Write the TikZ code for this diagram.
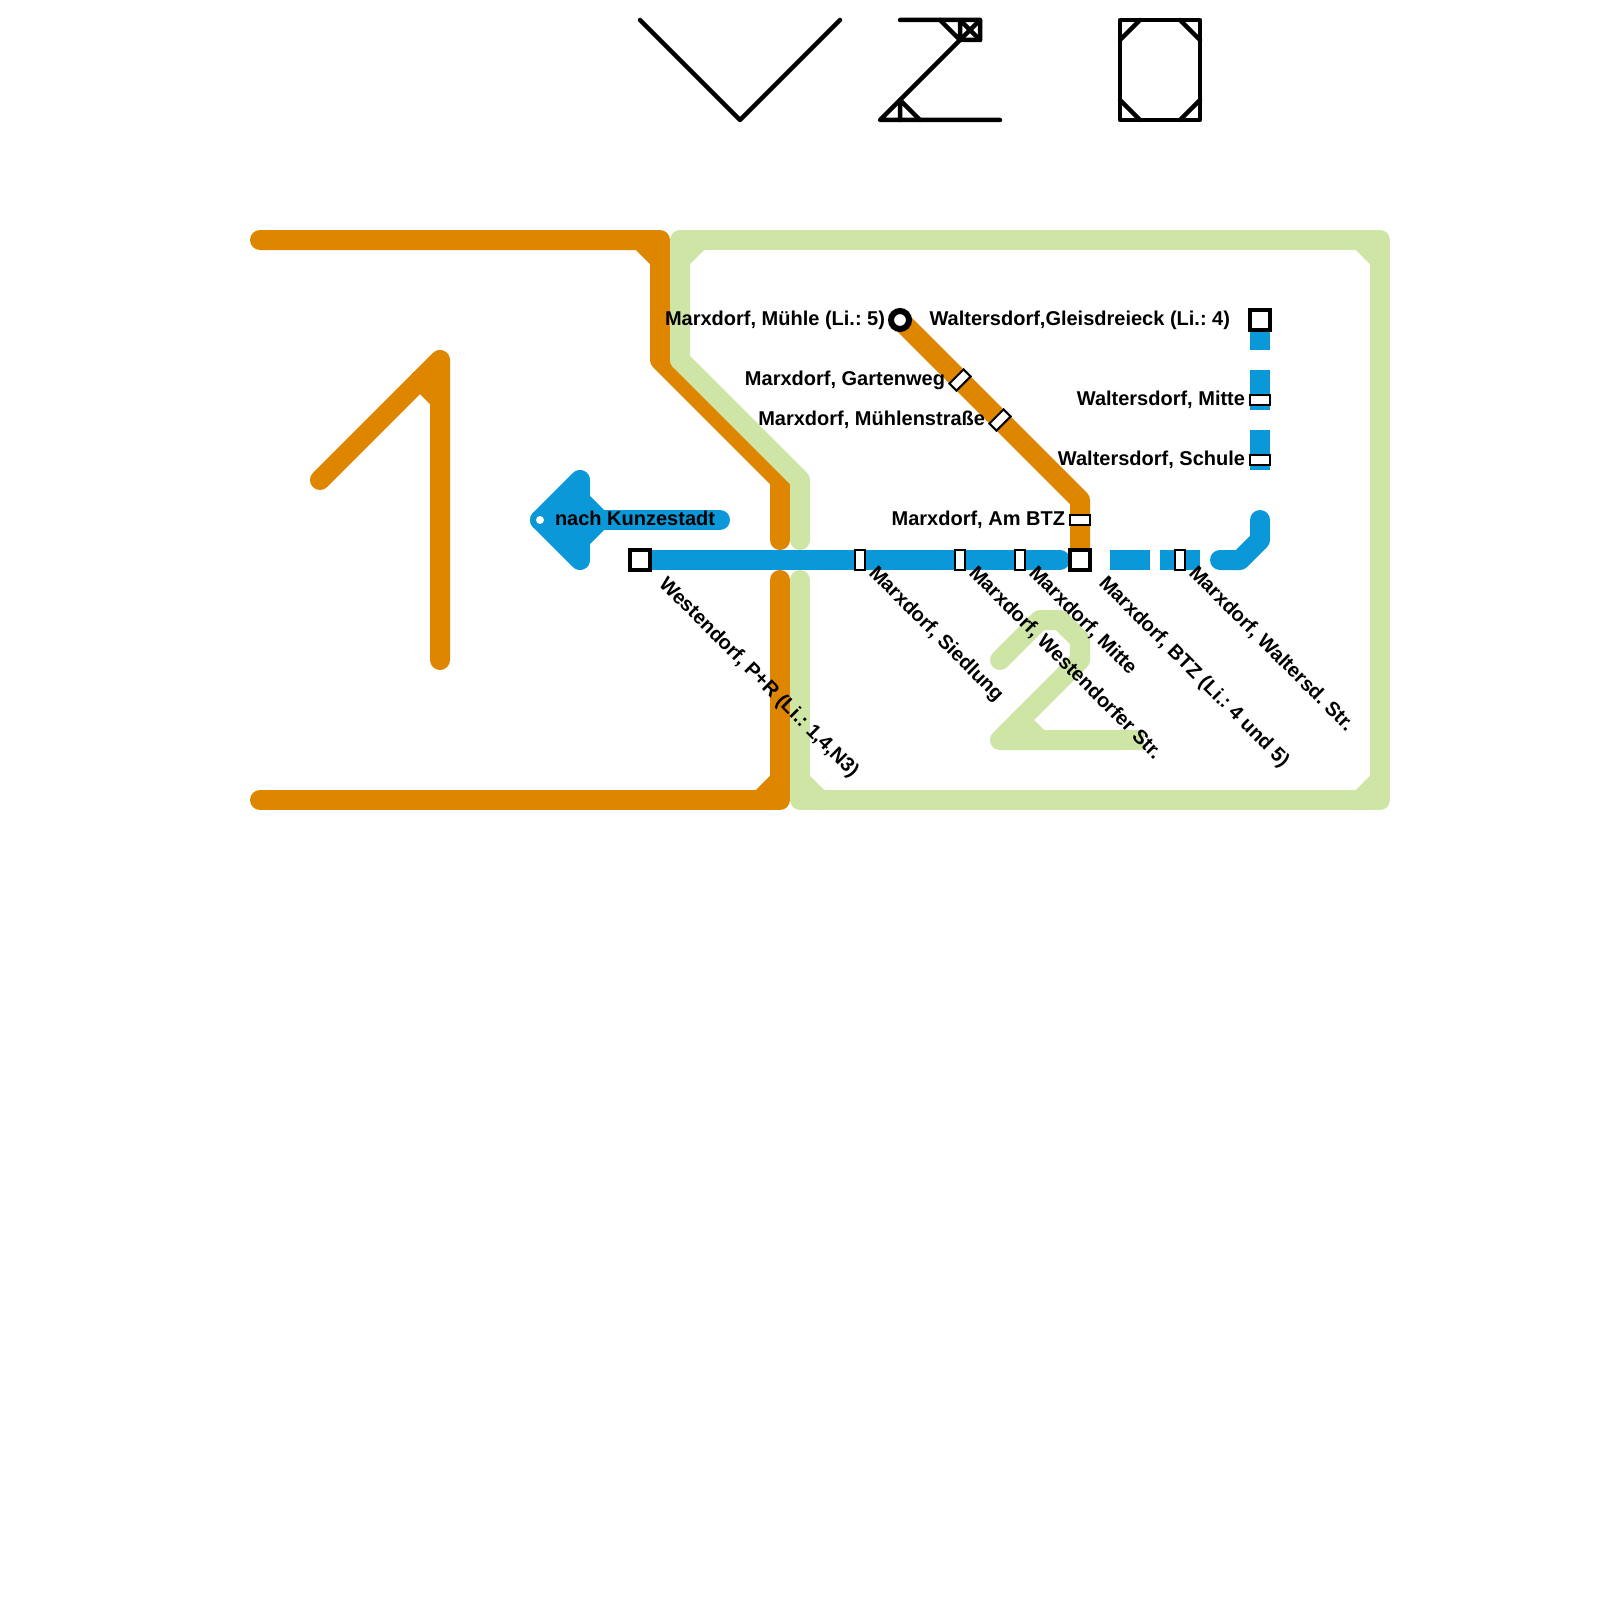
\documentclass[tikz,border=0pt]{standalone}
\usepackage{fontspec}
\setmainfont{Liberation Sans}
\frenchspacing
\definecolor{lorange}{HTML}{DF8600}
\definecolor{lblue}{HTML}{0A98D8}
\definecolor{lgreen}{HTML}{CFE5A6}
\tikzset{
  x=1pt,y=-1pt,
  linebase/.style={line width=20pt,line cap=round,line join=round},
  dashpiece/.style={line width=20pt,line cap=butt,draw=lblue},
  orangeline/.style={linebase,draw=lorange},
  greenline/.style={linebase,draw=lgreen},
  blueline/.style={linebase,draw=lblue},
  skeleton/.style={line width=4.5pt,line cap=round,line join=round,draw=black},
  termbox/.style={draw=black,fill=white,line width=4pt,minimum width=20pt,minimum height=20pt,inner sep=0pt,outer sep=0pt},
  stopv/.style={draw=black,fill=white,line width=2pt,minimum width=10pt,minimum height=20pt,inner sep=0pt,outer sep=0pt},
  stoph/.style={draw=black,fill=white,line width=2pt,minimum width=20pt,minimum height=10pt,inner sep=0pt,outer sep=0pt},
  ringstop/.style={circle,draw=black,fill=white,line width=6pt,minimum size=18pt,inner sep=0pt,outer sep=0pt},
  lab/.style={font=\fontsize{20}{22}\selectfont\bfseries,inner sep=0pt,outer sep=0pt},
  labl/.style={lab,anchor=base east},
  labr/.style={lab,anchor=base west,rotate=-45},
}
\begin{document}
\begin{tikzpicture}
\useasboundingbox[fill=white] (0,0) rectangle (1600,1600);
% skeleton glyphs
\coordinate (va) at (640,20); \coordinate (vb) at (740,120); \coordinate (vc) at (840,20);
\draw[skeleton] (va) -- (vb) -- (vc);
\coordinate (za) at (900,20); \coordinate (zb) at (980,20); \coordinate (zc) at (980,40);
\coordinate (zd) at (960,40); \coordinate (ze) at (880,120); \coordinate (zf) at (1000,120);
\coordinate (zg) at (940,20); \coordinate (zh) at (960,20);
\coordinate (zi) at (900,100); \coordinate (zj) at (900,120); \coordinate (zk) at (920,120);
\draw[skeleton] (za) -- (zb) -- (zc) -- (zd) -- (ze) -- (zf);
\draw[skeleton] (zg) -- (zd) -- (zh) -- (zc);
\draw[skeleton] (zb) -- (zd);
\draw[skeleton] (zj) -- (zi) -- (zk);
\coordinate (oa) at (1120,20); \coordinate (ob) at (1200,20); \coordinate (oc) at (1200,120); \coordinate (od) at (1120,120);
\draw[skeleton] (oa) -- (ob) -- (oc) -- (od) -- cycle;
\coordinate (oe) at (1120,40); \coordinate (of) at (1140,20);
\coordinate (og) at (1180,20); \coordinate (oh) at (1200,40);
\coordinate (oi) at (1120,100); \coordinate (oj) at (1140,120);
\coordinate (ok) at (1180,120); \coordinate (ol) at (1200,100);
\draw[skeleton] (oe) -- (of) (og) -- (oh) (oi) -- (oj) (ok) -- (ol);
% station coordinates
\coordinate (cWest) at (640,560);
\coordinate (cSied) at (860,560);
\coordinate (cWdf) at (960,560);
\coordinate (cMit) at (1020,560);
\coordinate (cBTZ) at (1080,560);
\coordinate (cWal) at (1180,560);
\coordinate (cMue) at (900,320);
\coordinate (cGar) at (960,380);
\coordinate (cMst) at (1000,420);
\coordinate (cAm) at (1080,520);
\coordinate (cGle) at (1260,320);
\coordinate (cWM) at (1260,400);
\coordinate (cWS) at (1260,460);
% orange lines
\draw[orangeline] (260,240) -- (660,240) -- (660,360) -- (780,480) -- (780,540);
\draw[orangeline] (640,240) -- (660,260);
\draw[orangeline] (780,580) -- (780,800) -- (260,800);
\draw[orangeline] (760,800) -- (780,780);
\draw[orangeline] (320,480) -- (440,360) -- (440,660);
\draw[orangeline] (420,380) -- (440,400);
\draw[orangeline] (cMue) -- (1080,500) -- (cBTZ);
% green lines
\draw[greenline] (680,360) -- (680,240) -- (1380,240) -- (1380,800) -- (800,800) -- (800,580);
\draw[greenline] (680,360) -- (800,480) -- (800,540);
\draw[greenline] (680,260) -- (700,240) (1360,240) -- (1380,260) (1380,780) -- (1360,800) (800,780) -- (820,800);
\draw[greenline] (1000,660) -- (1040,620) -- (1060,620) -- (1080,640) -- (1080,660) -- (1000,740) -- (1120,740);
\draw[greenline] (1020,720) -- (1040,740);
\draw[draw=lgreen,line width=20pt,line cap=butt] (1100,740) -- (1144,740);
% blue lines
\draw[blueline] (cWest) -- (1060,560);
\draw[dashpiece] (1110,560) -- (1150,560);
\draw[dashpiece] (1160,560) -- (1200,560);
\draw[blueline] (1220,560) -- (1240,560) -- (1260,540) -- (1260,520);
\draw[dashpiece] (cGle) -- (1260,350);
\draw[dashpiece] (1260,370) -- (1260,410);
\draw[dashpiece] (1260,430) -- (1260,470);
\draw[blueline,fill=lblue] (580,480) -- (540,520) -- (580,560) -- cycle;
\draw[blueline] (540,520) -- (720,520);
\draw[blueline] (580,500) -- (600,520) -- (580,540);
\fill[white] (540,520) circle (4);
% stations
\node[termbox] (West) at (cWest) {};
\node[termbox] (BTZ) at (cBTZ) {};
\node[termbox] (Gle) at (cGle) {};
\node[ringstop] (Mue) at (cMue) {};
\node[stopv] (Sied) at (cSied) {};
\node[stopv] (Wdf) at (cWdf) {};
\node[stopv] (Mit) at (cMit) {};
\node[stopv] (Wal) at (cWal) {};
\node[stoph] (Am) at (cAm) {};
\node[stoph] (WM) at (cWM) {};
\node[stoph] (WS) at (cWS) {};
\node[stoph,rotate=45] (Gar) at (cGar) {};
\node[stoph,rotate=45] (Mst) at (cMst) {};
% labels
\node[lab,anchor=base west] (tKunz) at (555,525) {nach Kunzestadt};
\node[labl] (tMue) at (885,325) {Marxdorf, Mühle (Li.: 5)};
\node[labl] (tGle) at (1230,325) {Waltersdorf,Gleisdreieck (Li.: 4)};
\node[labl] (tGar) at (945,385) {Marxdorf, Gartenweg};
\node[labl] (tMst) at (985,425) {Marxdorf, Mühlenstraße};
\node[labl] (tAm) at (1065,525) {Marxdorf, Am BTZ};
\node[labl] (tWM) at (1245,405) {Waltersdorf, Mitte};
\node[labl] (tWS) at (1245,465) {Waltersdorf, Schule};
\node[labr] (tWest) at (658,585) {Westendorf, P+R (Li.: 1,4,N3)};
\node[labr] (tSied) at (868,574) {Marxdorf, Siedlung};
\node[labr] (tWdf) at (968,574) {Marxdorf, Westendorfer Str.};
\node[labr] (tMit) at (1028,574) {Marxdorf, Mitte};
\node[labr] (tBTZ) at (1098,584) {Marxdorf, BTZ (Li.: 4 und 5)};
\node[labr] (tWal) at (1188,574) {Marxdorf, Waltersd. Str.};
\end{tikzpicture}
\end{document}
